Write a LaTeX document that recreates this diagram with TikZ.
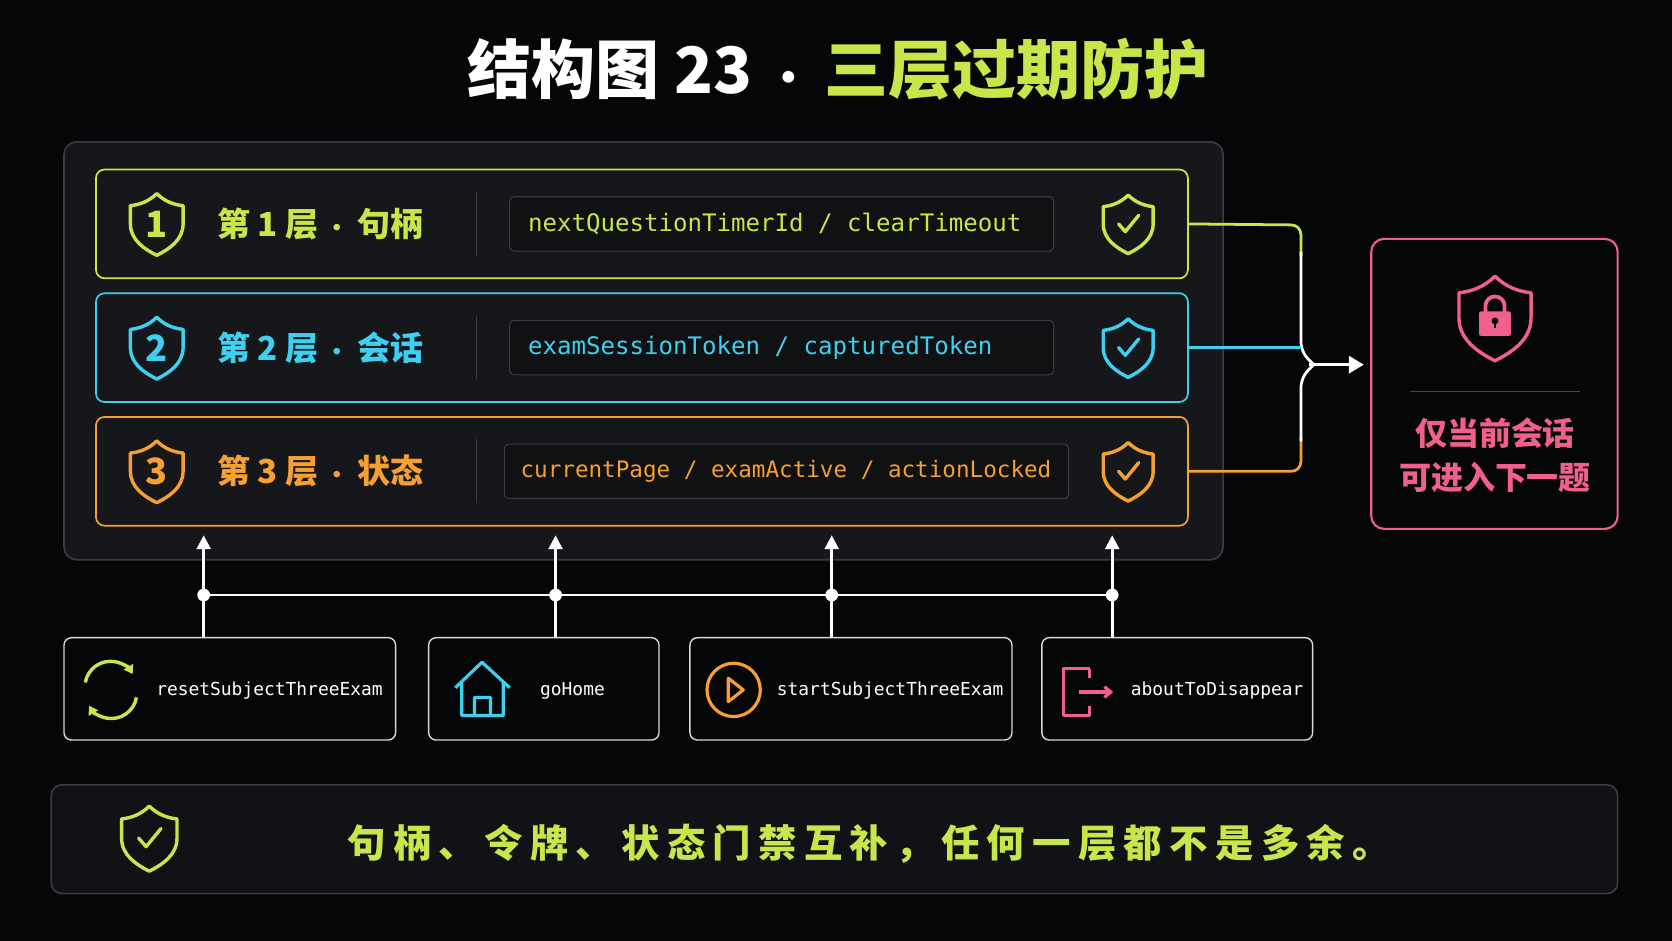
\documentclass[tikz,border=0pt]{standalone}
\usepackage{fontspec}
\newfontfamily\cjk{Noto Sans CJK SC}
\newfontfamily\mono{DejaVu Sans Mono}
\usetikzlibrary{arrows.meta}
\definecolor{bg}{HTML}{050607}
\definecolor{panel}{HTML}{15171A}
\definecolor{pborder}{HTML}{3A3D42}
\definecolor{lime}{HTML}{C8E64A}
\definecolor{cyanc}{HTML}{3FD0F0}
\definecolor{orangec}{HTML}{F5A030}
\definecolor{pinkc}{HTML}{F0608A}
\definecolor{codebg}{HTML}{101113}
\tikzset{
  x=1pt,y=-1pt,
  row/.style={draw=#1,line width=1.6pt,rounded corners=8pt,fill=panel},
  codebox/.style={draw=pborder,line width=1pt,rounded corners=4pt,fill=codebg,minimum height=51pt,inner sep=0pt},
  codetxt/.style={text=#1,anchor=west,inner sep=0pt},
  lbl/.style={font=\cjk\bfseries\fontsize{31}{34}\selectfont,text=#1,anchor=west},
  bnode/.style={draw=white!85!black,line width=1.3pt,rounded corners=7pt,fill=bg,minimum height=96pt,inner sep=0pt},
  btxt/.style={font=\mono\fontsize{16.8}{18}\selectfont,text=white,anchor=west},
  conn/.style={line width=2.6pt,rounded corners=9pt},
  shield/.pic={\draw[line width=3.2pt,line join=round,pic actions] (0,-30) .. controls (8,-22) and (17,-19) .. (26,-18) -- (26,0) .. controls (26,16) and (12,25) .. (0,31) .. controls (-12,25) and (-26,16) .. (-26,0) -- (-26,-18) .. controls (-17,-19) and (-8,-22) .. (0,-30) -- cycle;},
  check/.pic={\draw[line width=3.2pt,line cap=round,line join=round,pic actions] (-10,0)--(-3,8)--(11,-9);},
}
\begin{document}
\begin{tikzpicture}
\fill[bg] (0,0) rectangle (1568,882);
\useasboundingbox (0,0) rectangle (1568,882);
% title
\node[font=\cjk\bfseries\fontsize{60}{66}\selectfont] (title) at (786,65) {\textcolor{white}{结构图 23 {\fontsize{40}{40}\selectfont·} }\textcolor{lime}{三层过期防护}};
% outer panel
\draw[draw=pborder,line width=1.5pt,fill=panel,rounded corners=12pt] (60,133) rectangle (1147,525);
% rows
\foreach \i/\c/\y/\txt/\code/\cl/\cr/\tx/\fs in {1/lime/210/句柄/{nextQuestionTimerId / clearTimeout}/478/988/495/22.6,2/cyanc/326/会话/{examSessionToken / capturedToken}/478/988/495/22.6,3/orangec/442/状态/{currentPage / examActive / actionLocked}/473/1002/488/21.2}{
  \draw[row=\c] (90,\y-51) rectangle (1114,\y+51);
  \coordinate (r\i) at (1114,\y);
  \pic[draw=\c,scale=0.95] at (147,\y) {shield};
  \node[font=\cjk\bfseries\fontsize{34}{34}\selectfont,text=\c] (n\i) at (147,\y) {\i};
  \node[lbl=\c] (l\i) at (200,\y) {第 \i\ 层 {\fontsize{22}{22}\selectfont·} \txt};
  \draw[pborder,line width=1.5pt] (447,\y-30) -- (447,\y+30);
  \node[codebox,minimum width=\cr-\cl] (c\i) at ({(\cl+\cr)/2},\y) {};
  \node[codetxt=\c,font=\mono\fontsize{\fs}{24}\selectfont] (ct\i) at (\tx,\y) {\code};
  \pic[draw=\c,scale=0.9] at (1058,\y) {shield};
  \pic[draw=\c,scale=0.9] at (1058,\y) {check};
}
% connectors to result
\coordinate (aim) at (1279,342);
\draw[conn,lime] (r1) -- (1220,211) -- (1220,240);
\draw[conn,white] (1220,236) -- (1220,330) -- (1232,342);
\draw[conn,cyanc] (r2) -- (1220,326);
\draw[conn,orangec] (r3) -- (1220,442) -- (1220,410);
\draw[conn,white] (1220,414) -- (1220,354) -- (1232,342);
\draw[line width=2.6pt,white,-{Triangle[length=14pt,width=16pt]}] (1228,342) -- (aim);
% result box
\draw[pinkc,line width=2pt,rounded corners=12pt,fill=bg] (1286,224) rectangle (1517,496);
\pic[draw=pinkc,scale=1.3] at (1402,298) {shield};
\draw[pinkc,line width=3.5pt] (1393,294) -- (1393,287) arc[start angle=180,end angle=360,radius=9] -- (1411,294);
\fill[pinkc,rounded corners=2pt] (1387,292) rectangle (1417,315);
\fill[bg] (1402,301) circle (3.2);
\draw[bg,line width=2.2pt] (1402,301) -- (1402,308);
\draw[pinkc!50!black,line width=1.5pt] (1322,367) -- (1482,367);
\node[font=\cjk\bfseries\fontsize{30}{42}\selectfont,text=pinkc,align=center] (res) at (1402,427) {仅当前会话\\可进入下一题};
% bottom nodes
\node[bnode,minimum width=311pt] (b1) at (215.5,646) {};
\node[bnode,minimum width=216pt] (b2) at (510,646) {};
\node[bnode,minimum width=302pt] (b3) at (798,646) {};
\node[bnode,minimum width=254pt] (b4) at (1104,646) {};
\node[btxt] (t1) at (143,648) {resetSubjectThreeExam};
\node[btxt] (t2) at (503,648) {goHome};
\node[btxt] (t3) at (725,648) {startSubjectThreeExam};
\node[btxt] (t4) at (1057,648) {aboutToDisappear};
% icons
\draw[lime,line width=3.2pt,-{Triangle[length=8pt,width=10pt]}] (80,640) arc[start angle=190,end angle=330,radius=24] ;
\draw[lime,line width=3.2pt,-{Triangle[length=8pt,width=10pt]}] (128,654) arc[start angle=10,end angle=150,radius=24];
\draw[cyanc,line width=3pt,line join=round] (427,645) -- (452,621) -- (478,645) (433,640) -- (433,671) -- (472,671) -- (472,640) (445,671) -- (445,654) -- (460,654) -- (460,671);
\draw[orangec,line width=3pt] (688,647) circle (25);
\draw[orangec,line width=3pt,line join=round] (683,636) -- (697,647) -- (683,658) -- cycle;
\draw[pinkc,line width=3pt,line join=round] (1022,627) -- (997,627) -- (997,671) -- (1022,671) (1022,627) -- (1022,636) (1022,662) -- (1022,671);
\draw[pinkc,line width=3pt,-{Straight Barb[length=6pt,width=10pt]}] (1012,649) -- (1044,649);
% bus
\foreach \k/\x in {1/191,2/521,3/780,4/1043}{
  \coordinate (top\k) at (\x,502);
  \coordinate (d\k) at (\x,558);
  \draw[white,line width=2.6pt,-{Triangle[length=13pt,width=13pt]}] (b\k.north -| d\k) -- (top\k);
  \fill[white] (d\k) circle (6);
}
\draw[white,line width=2.6pt] (d1) -- (d4);
% banner
\draw[pborder,line width=1.5pt,fill=panel!80!black,rounded corners=10pt] (48,736) rectangle (1517,838);
\pic[draw=lime,scale=1.0] at (140,786) {shield};
\pic[draw=lime,scale=1.0] at (140,786) {check};
\node[font=\cjk\bfseries\fontsize{36}{40}\selectfont\addfontfeature{LetterSpace=19},text=lime] (ban) at (815,791) {句柄、令牌、状态门禁互补，任何一层都不是多余。};
\end{tikzpicture}
\end{document}
